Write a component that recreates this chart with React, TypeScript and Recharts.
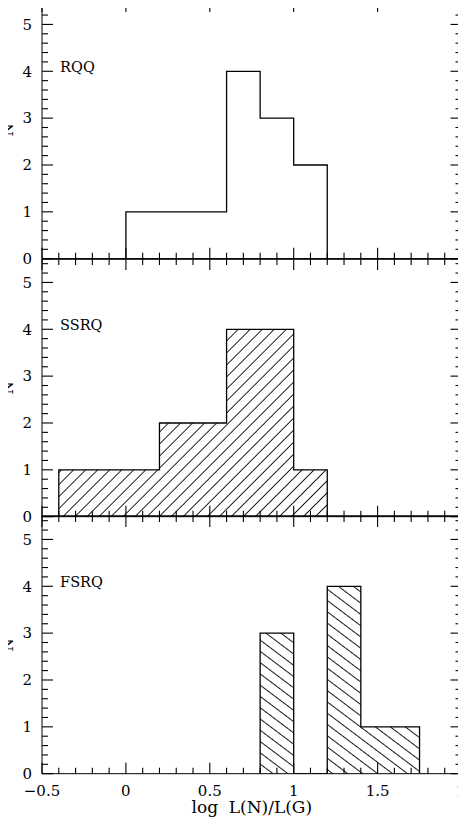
// Three stacked step histograms (RQQ / SSRQ / FSRQ) sharing one x axis.
// Each panel is its own chart; inward ticks are short reference segments,
// hatched fills come from SVG patterns.

import React from 'react'
import { ComposedChart, Area, XAxis, YAxis, ReferenceDot, ReferenceLine } from 'recharts'

const FONT = '"DejaVu Serif", serif'

// axis ranges + tick labels
const X_DOMAIN: [number, number] = [-0.5, 2]
const Y_DOMAIN: [number, number] = [0, 5.5]
const X_MAJOR = [-0.5, 0, 0.5, 1, 1.5, 2]
const Y_MAJOR = [0, 1, 2, 3, 4, 5]
// every 0.1 on x, every 0.2 on y (majors included)
const X_TICKS = Array.from({ length: 26 }, (_, i) => Math.round((-0.5 + i * 0.1) * 10) / 10)
const Y_TICKS = Array.from({ length: 28 }, (_, i) => Math.round(i * 0.2 * 10) / 10)

// histogram bins (edges) and counts per bin
const RQQ_EDGES = [0, 0.2, 0.4, 0.6, 0.8, 1.0, 1.2]
const RQQ_COUNTS = [1, 1, 1, 4, 3, 2]

const SSRQ_EDGES = [-0.4, -0.2, 0, 0.2, 0.4, 0.6, 0.8, 1.0, 1.2]
const SSRQ_COUNTS = [1, 1, 1, 2, 2, 4, 4, 1]

const FSRQ_EDGES = [0.8, 1.0, 1.2, 1.4, 1.75]
const FSRQ_COUNTS = [3, 0, 4, 1]

const W = 466
const M_LEFT = 42
const M_RIGHT = 4.5
const PLOT_H = 257.7
const PAD = 10
const FIRST_TOP = 1
const BOTTOM_SPACE = 823 - (FIRST_TOP + 3 * PLOT_H)
const THIN = 0.001

// pixels per data unit, to turn tick lengths into data offsets
const PX_X = (W - M_LEFT - M_RIGHT) / (X_DOMAIN[1] - X_DOMAIN[0])
const PX_Y = PLOT_H / (Y_DOMAIN[1] - Y_DOMAIN[0])

interface StepPoint {
  x: number
  n: number
}

// bins -> stepAfter outline: up from 0, across each bin, back down to 0
function toSteps(edges: number[], counts: number[]): StepPoint[] {
  const pts: StepPoint[] = [{ x: edges[0], n: 0 }]
  counts.forEach((c, i) => pts.push({ x: edges[i], n: c }))
  pts.push({ x: edges[edges.length - 1], n: 0 })
  return pts
}

function fmtX(v: number): string {
  if (v < 0) return `\u2212${Math.abs(v)}`
  return `${v}`
}

const isMajorX = (v: number) => X_MAJOR.some((m) => Math.abs(m - v) < 1e-6)
const isMajorY = (v: number) => Y_MAJOR.some((m) => Math.abs(m - v) < 1e-6)

// inward ticks on all four sides
function ticks() {
  const out: React.ReactNode[] = []
  X_TICKS.forEach((v) => {
    const dy = (isMajorX(v) ? 11 : 6) / PX_Y
    out.push(
      <ReferenceLine key={`b${v}`} xAxisId="b" yAxisId="l" segment={[{ x: v, y: 0 }, { x: v, y: dy }]} ifOverflow="visible" stroke="#000" strokeWidth={1.1} />,
      <ReferenceLine key={`t${v}`} xAxisId="b" yAxisId="l" segment={[{ x: v, y: 5.5 }, { x: v, y: 5.5 - dy }]} ifOverflow="visible" stroke="#000" strokeWidth={1.1} />,
    )
  })
  Y_TICKS.forEach((v) => {
    const dx = (isMajorY(v) ? 11 : 6) / PX_X
    out.push(
      <ReferenceLine key={`l${v}`} xAxisId="b" yAxisId="l" segment={[{ x: -0.5, y: v }, { x: -0.5 + dx, y: v }]} ifOverflow="visible" stroke="#000" strokeWidth={1.1} />,
      <ReferenceLine key={`r${v}`} xAxisId="b" yAxisId="l" segment={[{ x: 2, y: v }, { x: 2 - dx, y: v }]} ifOverflow="visible" stroke="#000" strokeWidth={1.1} />,
    )
  })
  return out
}

interface PanelProps {
  name: string
  data: StepPoint[]
  hatchId?: string
  hatchAngle?: number
  hatchGap?: number
  marginTop: number
  padTop: number
  padBottom: number
  showX: boolean
}

function Panel({ name, data, hatchId, hatchAngle, hatchGap, marginTop, padTop, padBottom, showX }: PanelProps) {
  const gap = hatchGap ?? 8
  return (
    <div style={{ marginTop }}>
      <ComposedChart
        width={W}
        height={padTop + PLOT_H + padBottom}
        data={data}
        margin={{ top: padTop, right: M_RIGHT, bottom: padBottom, left: M_LEFT }}
      >
        {hatchId && (
          <defs>
            <pattern id={hatchId} patternUnits="userSpaceOnUse" width={gap} height={10} patternTransform={`rotate(${hatchAngle})`}>
              <line x1={gap / 2} y1={0} x2={gap / 2} y2={10} stroke="#000" strokeWidth={0.9} />
            </pattern>
          </defs>
        )}
        <XAxis
          xAxisId="b"
          type="number"
          dataKey="x"
          domain={X_DOMAIN}
          ticks={X_MAJOR}
          allowDataOverflow
          interval={0}
          height={THIN}
          stroke="#000"
          tickLine={false}
          tickMargin={5.2}
          tick={showX ? { fontSize: 15, fill: '#000', fontFamily: FONT } : false}
          tickFormatter={fmtX}
          label={
            showX
              ? { value: 'log\u00A0\u00A0L(N)/L(G)', position: 'bottom', offset: 26.8, fontSize: 17, fill: '#000', fontFamily: FONT }
              : undefined
          }
        />
        <YAxis
          yAxisId="l"
          type="number"
          domain={Y_DOMAIN}
          ticks={Y_MAJOR}
          allowDataOverflow
          interval={0}
          width={THIN}
          stroke="#000"
          tickLine={false}
          tickMargin={4}
          tick={{ fontSize: 15, fill: '#000', fontFamily: FONT }}
        />
        <Area
          xAxisId="b"
          yAxisId="l"
          dataKey="n"
          type="stepAfter"
          stroke="#000"
          strokeWidth={1.3}
          fill={hatchId ? `url(#${hatchId})` : 'none'}
          fillOpacity={1}
          isAnimationActive={false}
        />
        {/* top + right frame */}
        <ReferenceLine xAxisId="b" yAxisId="l" y={5.5} ifOverflow="visible" stroke="#000" strokeWidth={1.4} />
        <ReferenceLine xAxisId="b" yAxisId="l" x={2} ifOverflow="visible" stroke="#000" strokeWidth={1.4} />
        {ticks()}
        <ReferenceDot
          xAxisId="b"
          yAxisId="l"
          x={-0.395}
          y={4.1}
          r={0.5}
          fill="none"
          stroke="none"
          ifOverflow="visible"
          label={{ value: name, position: 'right', offset: 0, fontSize: 14.5, fill: '#000', fontFamily: FONT }}
        />
        <ReferenceDot
          xAxisId="b"
          yAxisId="l"
          x={X_DOMAIN[0] - 34 / PX_X}
          y={2.75}
          r={0.5}
          fill="none"
          stroke="none"
          ifOverflow="visible"
          label={{ value: 'N', position: 'center', angle: -90, fontSize: 15, fill: '#000', fontFamily: FONT }}
        />
      </ComposedChart>
    </div>
  )
}

export default function App() {
  return (
    <div style={{ position: 'relative', top: -8, left: -8, width: W }}>
      <Panel
        name="RQQ"
        data={toSteps(RQQ_EDGES, RQQ_COUNTS)}
        marginTop={0}
        padTop={FIRST_TOP}
        padBottom={PAD}
        showX={false}
      />
      <Panel
        name="SSRQ"
        data={toSteps(SSRQ_EDGES, SSRQ_COUNTS)}
        hatchId="hatch-ssrq"
        hatchAngle={45}
        hatchGap={8.5}
        marginTop={-2 * PAD}
        padTop={PAD}
        padBottom={PAD}
        showX={false}
      />
      <Panel
        name="FSRQ"
        data={toSteps(FSRQ_EDGES, FSRQ_COUNTS)}
        hatchId="hatch-fsrq"
        hatchAngle={-53}
        hatchGap={9}
        marginTop={-2 * PAD}
        padTop={PAD}
        padBottom={BOTTOM_SPACE}
        showX
      />
    </div>
  )
}
